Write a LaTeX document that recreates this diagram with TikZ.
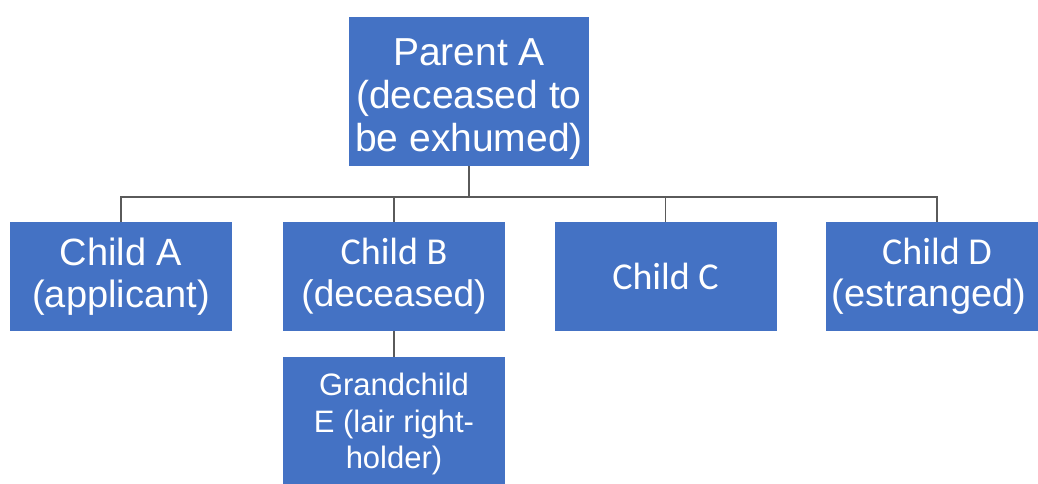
\documentclass[tikz,border=0pt]{standalone}
\usepackage{fontspec}
\setmainfont{Liberation Sans}
\newfontfamily\calfont{Carlito}
\definecolor{boxblue}{HTML}{4472C4}
\definecolor{linegray}{HTML}{5A5A5A}
\begin{document}
\begin{tikzpicture}[x=1pt,y=-1pt,
  orgbox/.style={rectangle, fill=boxblue, text=white, inner sep=0pt,
    minimum width=222pt, minimum height=109pt, align=center,
    font=\fontsize{38}{42}\selectfont},
  boxtext/.style={text=white, inner sep=0pt, align=center},
  link/.style={draw=linegray, line width=1.2pt}]
\useasboundingbox (0,0) rectangle (1038,483);
\clip (0,0) rectangle (1038,483);
\node[orgbox, minimum width=240pt, minimum height=149pt] (P) at (469,91.5) {};
\node[boxtext, font=\fontsize{39}{43}\selectfont] (Pt) at (469,99)
  {Parent A\\(deceased to\\be exhumed)};
\node[orgbox] (A) at (121,276.5) {Child A\\(applicant)};
\node[orgbox, font=\fontsize{37}{42}\selectfont] (B) at (394,276.5)
  {{\calfont\fontsize{38}{42}\selectfont Child B}\\(deceased)};
\node[orgbox] (C) at (665.5,276.5) {\calfont\fontsize{38}{42}\selectfont Child C};
\node[orgbox] (D) at (937,276.5)
  {{\calfont\fontsize{38}{42}\selectfont Child D}\\\hspace*{-16pt}(estranged)};
\node[orgbox, minimum height=134pt, font=\fontsize{31}{36.7}\selectfont] (E) at (394,424)
  {Grandchild\\E (lair right-\\holder)};
\coordinate (bus) at (469,197);
\draw[link] (P.south) -- (bus);
\draw[link] (A.north) -- (A.north |- bus) -- (D.north |- bus) -- (D.north);
\draw[link] (B.north) -- (B.north |- bus);
\draw[link] (C.north) -- (C.north |- bus);
\draw[link] (B.south) -- (E.north);
\end{tikzpicture}
\end{document}
